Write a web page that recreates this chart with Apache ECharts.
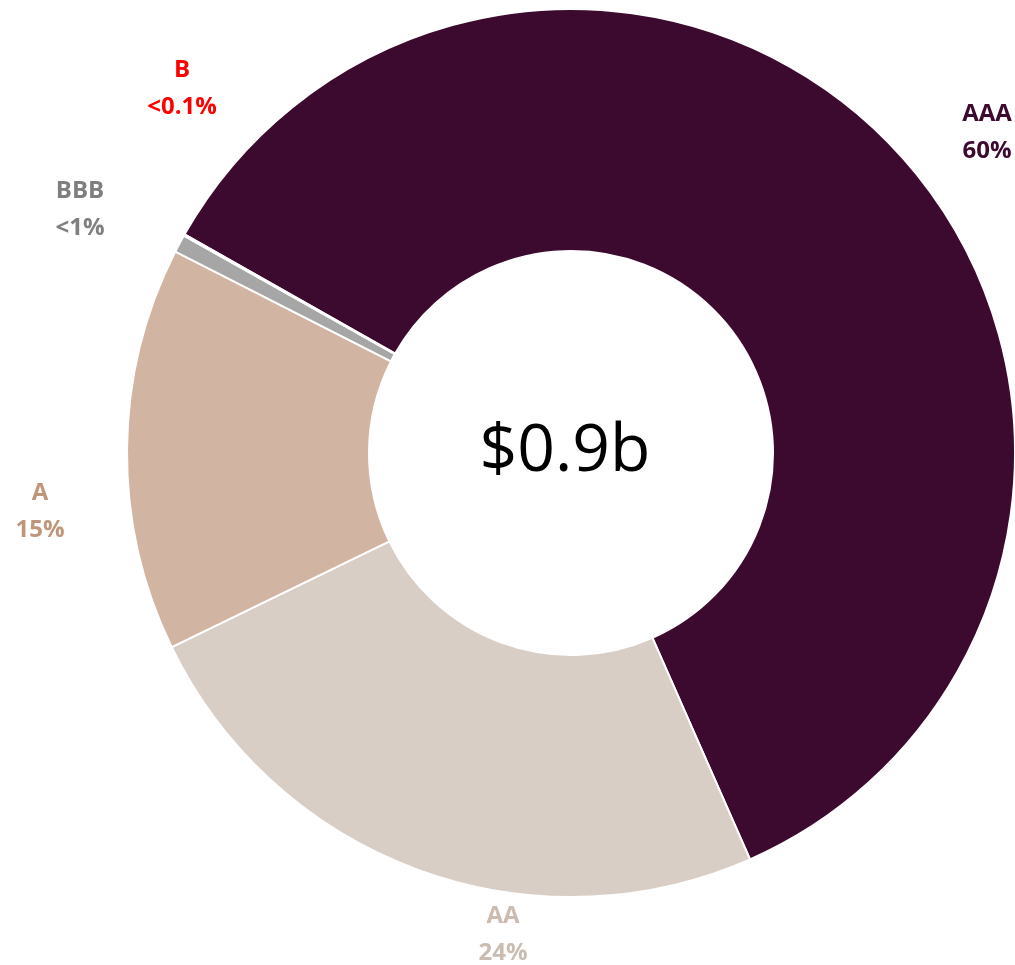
<!DOCTYPE html>
<html>
<head>
<meta charset="utf-8">
<script src="https://cdn.jsdelivr.net/npm/echarts@6/dist/echarts.min.js"></script>
<style>
  html, body { margin: 0; padding: 0; background: #fff; }
  #chart { width: 1015px; height: 965px; }
</style>
</head>
<body>
<div id="chart"></div>
<script>
// rating buckets, clockwise from the upper left
var ratings = ['AAA', 'AA', 'A', 'BBB', 'B'];
var shares = [60.2, 24.4, 14.7, 0.65, 0.05];
var shareLabels = ['60%', '24%', '15%', '<1%', '<0.1%'];
var sliceColors = ['#3c0a2e', '#d9cec6', '#d2b4a2', '#a6a6a6', '#ff0000'];
var labelColors = ['#3c0a2e', '#cbbcb1', '#c0967a', '#7f7f7f', '#ff0000'];
var totalText = '$0.9b';

// label anchor points (excel places them by hand)
var labelPos = [[987, 133], [503, 935], [40, 512], [80, 210], [182, 89]];

var chart = echarts.init(document.getElementById('chart'));

var data = ratings.map(function (name, i) {
  return {
    name: name,
    value: shares[i],
    itemStyle: { color: sliceColors[i] },
    label: { color: labelColors[i] }
  };
});

var option = {
  backgroundColor: '#fff',
  animation: false,
  graphic: [{
    type: 'text',
    x: 565,
    y: 452,
    style: {
      text: totalText,
      font: '66px "Open Sans"',
      fill: '#000',
      textAlign: 'center',
      textVerticalAlign: 'middle'
    }
  }],
  series: [{
    type: 'pie',
    center: [571, 453],
    radius: [202, 444],
    startAngle: 150.5,
    clockwise: true,
    avoidLabelOverlap: false,
    minAngle: 0,
    itemStyle: {
      borderColor: '#fff',
      borderWidth: 2
    },
    label: {
      show: true,
      position: 'outside',
      fontFamily: 'Open Sans',
      fontWeight: 'bold',
      fontSize: 24,
      lineHeight: 37,
      align: 'center',
      formatter: function (p) {
        return p.name + '\n' + shareLabels[p.dataIndex];
      }
    },
    labelLine: { show: false },
    labelLayout: function (params) {
      var pos = labelPos[params.dataIndex];
      return {
        x: pos[0],
        y: pos[1],
        align: 'center',
        verticalAlign: 'middle'
      };
    },
    data: data
  }]
};

chart.setOption(option);
</script>
</body>
</html>
